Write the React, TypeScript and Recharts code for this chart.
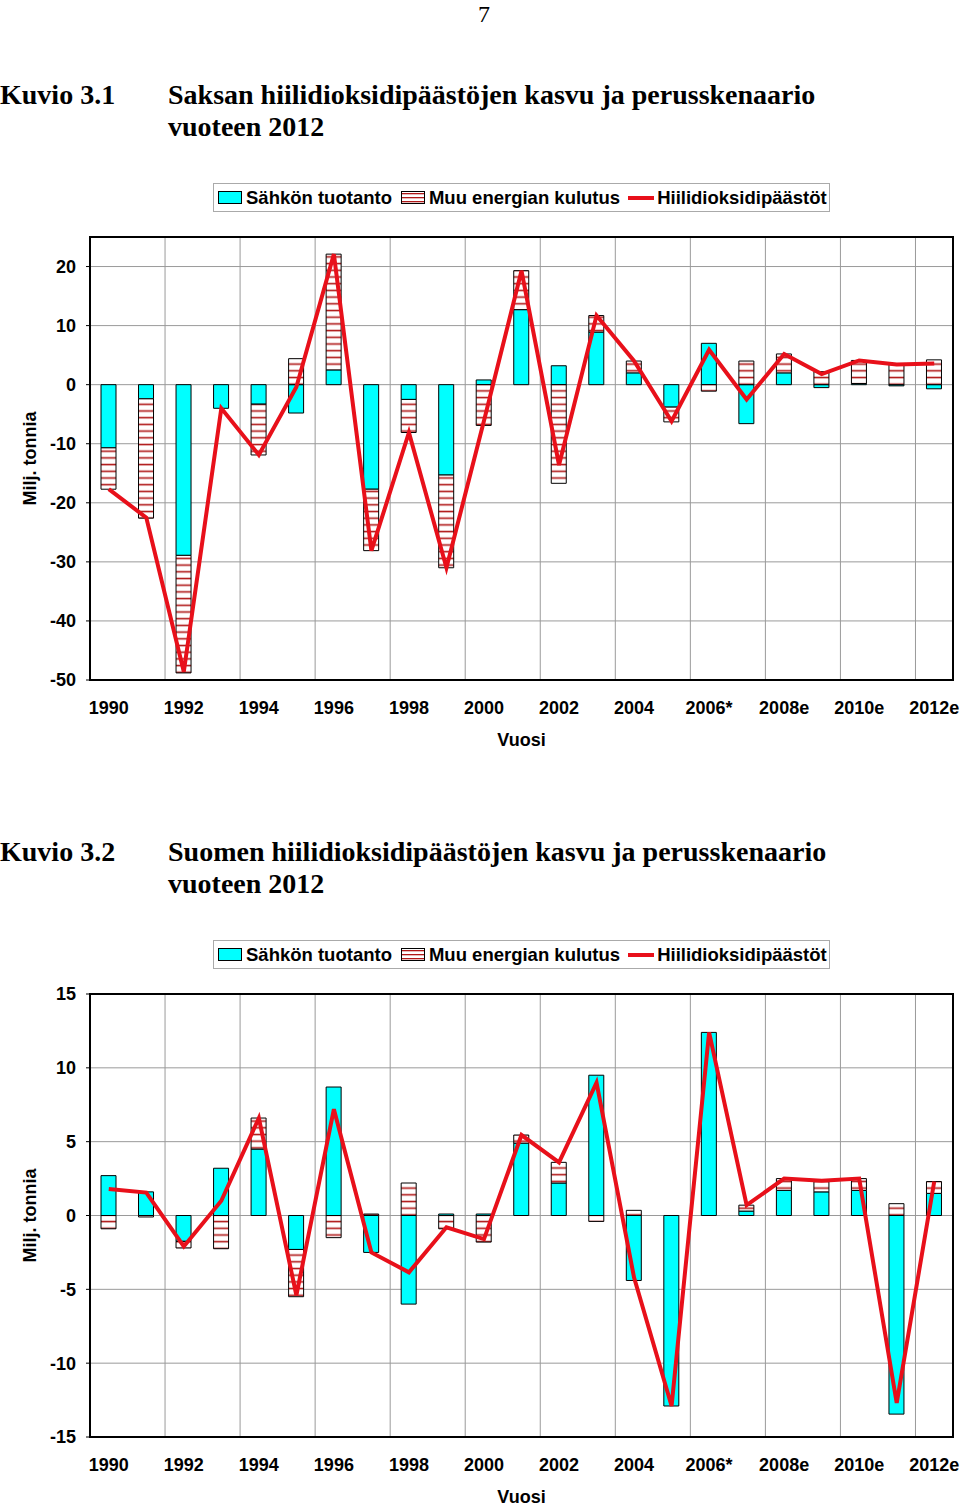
import React from 'react';
import { ComposedChart, Bar, Line, XAxis, YAxis, CartesianGrid, ReferenceArea } from 'recharts';

const years = [
  '1990', '1991', '1992', '1993', '1994', '1995', '1996', '1997', '1998', '1999', '2000', '2001',
  '2002', '2003', '2004', '2005', '2006*', '2007e', '2008e', '2009e', '2010e', '2011e', '2012e',
];

// Saksa (Kuvio 3.1)
const deSahko = [-10.7, -2.4, -28.9, -4.0, -3.3, -4.8, 2.5, -17.7, -2.5, -15.3, 0.8, 12.7, 3.2, 8.9, 2.0, -3.8, 7.0, -6.6, 2.0, -0.5, 0.2, -0.2, -0.7];
const deMuu = [-7.0, -20.2, -19.9, 0, -8.6, 4.4, 19.6, -10.4, -5.6, -15.7, -6.9, 6.6, -16.7, 2.8, 2.0, -2.5, -1.1, 4.0, 3.2, 2.2, 3.9, 3.5, 4.2];
const deCo2 = [-17.7, -22.5, -48.6, -4.0, -11.9, -0.4, 22.1, -28.1, -8.1, -31.0, -6.1, 19.3, -13.6, 11.7, 4.0, -6.2, 5.9, -2.5, 5.2, 1.8, 4.1, 3.4, 3.6];
const deTicks = [-50, -40, -30, -20, -10, 0, 10, 20];

// Suomi (Kuvio 3.2)
const fiSahko = [2.7, 1.6, -1.75, 3.2, 4.5, -2.3, 8.7, -2.5, -6.0, 0.1, 0.1, 4.9, 2.2, 9.5, -4.4, -12.9, 12.4, 0.3, 1.7, 1.6, 1.7, -13.45, 1.5];
const fiMuu = [-0.9, -0.1, -0.45, -2.25, 2.1, -3.2, -1.5, 0.1, 2.2, -0.9, -1.8, 0.55, 1.4, -0.4, 0.35, 0, 0, 0.4, 0.8, 0.7, 0.8, 0.8, 0.8];
const fiCo2 = [1.8, 1.55, -2.1, 1.0, 6.6, -5.4, 7.2, -2.5, -3.85, -0.8, -1.6, 5.45, 3.6, 9.0, -4.2, -12.9, 12.4, 0.7, 2.5, 2.35, 2.5, -12.7, 2.3];
const fiTicks = [-15, -10, -5, 0, 5, 10, 15];

const seriesNames = ['Sähkön tuotanto', 'Muu energian kulutus', 'Hiilidioksidipäästöt'];

const CYAN = '#00FFFF';
const RED = '#E8101A';
const STRIPE = '#B01818';
const sans = '"Liberation Sans", Arial, sans-serif';
const serif = '"Liberation Serif", "Times New Roman", serif';

const makeRows = (s: number[], m: number[], c: number[]) =>
  years.map((year, i) => ({ year, sahko: s[i], muu: m[i], co2: c[i] }));

const tickStyle = { fill: '#000', fontSize: 18, fontWeight: 'bold', fontFamily: sans };

const YTitle = (props: any) => {
  const vb = props.viewBox;
  const x = vb.x + 36;
  const y = vb.y + vb.height / 2;
  return (
    <text x={x} y={y} transform={`rotate(-90, ${x}, ${y})`} textAnchor="middle"
      fill="#000" fontSize={18} fontWeight="bold" fontFamily={sans}>
      Milj. tonnia
    </text>
  );
};

// gridlines every second category boundary, like the Excel original
const gridX = ({ offset }: any) => {
  const step = offset.width / years.length;
  const pts: number[] = [];
  for (let k = 2; k < years.length; k += 2) pts.push(offset.left + k * step);
  return pts;
};

const Legend = ({ top }: { top: number }) => (
  <div style={{
    position: 'absolute', left: 213, top, width: 617, height: 29, boxSizing: 'border-box',
    border: '1px solid #aaa', display: 'flex', alignItems: 'center', paddingLeft: 4,
    fontFamily: sans, fontWeight: 'bold', fontSize: 18.5, color: '#000', whiteSpace: 'nowrap',
  }}>
    <svg width={24} height={14} style={{ marginRight: 4 }}>
      <rect x={0.5} y={0.5} width={23} height={12} fill={CYAN} stroke="#000" />
    </svg>
    <span style={{ marginRight: 9 }}>{seriesNames[0]}</span>
    <svg width={24} height={14} style={{ marginRight: 4 }}>
      <rect x={0.5} y={0.5} width={23} height={12} fill="url(#hatchSmall)" stroke="#000" />
    </svg>
    <span style={{ marginRight: 8 }}>{seriesNames[1]}</span>
    <svg width={26} height={14} style={{ marginRight: 3 }}>
      <line x1={0} y1={7} x2={26} y2={7} stroke={RED} strokeWidth={4} />
    </svg>
    <span>{seriesNames[2]}</span>
  </div>
);

type SectionProps = {
  dy: number;
  kuvio: string;
  title: string;
  rows: any[];
  domain: [number, number];
  ticks: number[];
};

const Section = ({ dy, kuvio, title, rows, domain, ticks }: SectionProps) => (
  <>
    <svg width={960} height={150} style={{ position: 'absolute', left: 0, top: dy }}>
      <g fontFamily={serif} fontWeight="bold" fontSize={28} fill="#000">
        <text x={0} y={104}>{kuvio}</text>
        <text x={168} y={104}>{title}</text>
        <text x={168} y={136}>vuoteen 2012</text>
      </g>
    </svg>
    <Legend top={183 + dy} />
    <div style={{ position: 'absolute', left: 0, top: 220 + dy }}>
      <ComposedChart width={960} height={530} data={rows} stackOffset="sign" barSize={15}
        margin={{ top: 17, right: 7, bottom: 0, left: 0 }}>
        <CartesianGrid stroke="#9a9a9a" strokeWidth={1} verticalCoordinatesGenerator={gridX} />
        <XAxis dataKey="year" interval={1} tickLine={false} tickSize={4} tickMargin={17} height={70}
          axisLine={{ stroke: '#000', strokeWidth: 2 }} tick={tickStyle}
          label={{ value: 'Vuosi', position: 'insideBottom', offset: 4, fill: '#000', fontSize: 18, fontWeight: 'bold', fontFamily: sans }} />
        <YAxis type="number" domain={domain} ticks={ticks} interval={0} width={90} allowDataOverflow
          tickSize={4} tickMargin={10} axisLine={{ stroke: '#000', strokeWidth: 2 }}
          tickLine={{ stroke: '#000' }} tick={tickStyle} label={YTitle} />
        <ReferenceArea y1={domain[0]} y2={domain[1]} fill="none" stroke="#000" strokeWidth={2} ifOverflow="visible" />
        <Bar dataKey="sahko" name={seriesNames[0]} stackId="a" fill={CYAN} stroke="#000" strokeWidth={1} isAnimationActive={false} />
        <Bar dataKey="muu" name={seriesNames[1]} stackId="a" fill="url(#hatch)" stroke="#000" strokeWidth={1} isAnimationActive={false} />
        <Line type="linear" dataKey="co2" name={seriesNames[2]} stroke={RED} strokeWidth={4} dot={false} isAnimationActive={false} />
      </ComposedChart>
    </div>
  </>
);

export default function App() {
  return (
    <div style={{ position: 'absolute', left: 0, top: 0, width: 960, height: 1507, background: '#fff', overflow: 'hidden' }}>
      <svg width={0} height={0} style={{ position: 'absolute' }}>
        <defs>
          <pattern id="hatch" patternUnits="userSpaceOnUse" width={10} height={6.7}>
            <rect width={10} height={6.7} fill="#fff" />
            <rect y={2.6} width={10} height={1.6} fill={STRIPE} />
          </pattern>
          <pattern id="hatchSmall" patternUnits="userSpaceOnUse" width={10} height={4}>
            <rect width={10} height={4} fill="#fff" />
            <rect y={2} width={10} height={1.3} fill={STRIPE} />
          </pattern>
        </defs>
      </svg>
      <svg width={960} height={34} style={{ position: 'absolute', left: 0, top: 0 }}>
        <text x={484} y={22} textAnchor="middle" fontFamily={serif} fontSize={24} fill="#000">7</text>
      </svg>
      <Section dy={0} kuvio="Kuvio 3.1" title="Saksan hiilidioksidipäästöjen kasvu ja perusskenaario"
        rows={makeRows(deSahko, deMuu, deCo2)} domain={[-50, 25]} ticks={deTicks} />
      <Section dy={757} kuvio="Kuvio 3.2" title="Suomen hiilidioksidipäästöjen kasvu ja perusskenaario"
        rows={makeRows(fiSahko, fiMuu, fiCo2)} domain={[-15, 15]} ticks={fiTicks} />
    </div>
  );
}
